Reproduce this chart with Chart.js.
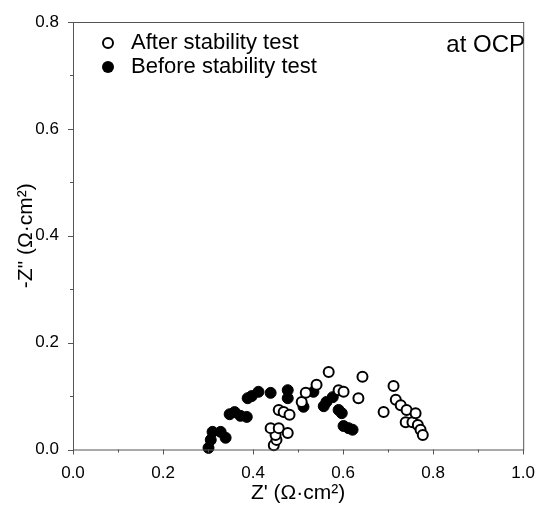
<!DOCTYPE html>
<html>
<head>
<meta charset="utf-8">
<script src="https://cdn.jsdelivr.net/npm/chart.js@4/dist/chart.umd.min.js"></script>
<style>
html,body{margin:0;padding:0;background:#fff;}
#wrap{width:541px;height:517px;}
</style>
</head>
<body>
<div id="wrap"><canvas id="c" width="541" height="517"></canvas></div>
<script>
// ---- data ----
const afterX = [0.446,0.452,0.450,0.439,0.457,0.477,0.457,0.468,0.481,0.508,0.517,0.541,0.568,0.590,0.601,0.634,0.643,0.690,0.712,0.717,0.728,0.741,0.739,0.754,0.761,0.766,0.772,0.777];
const afterY = [0.008,0.018,0.027,0.040,0.040,0.031,0.074,0.070,0.065,0.089,0.106,0.121,0.145,0.111,0.108,0.096,0.136,0.070,0.119,0.093,0.083,0.074,0.051,0.051,0.068,0.046,0.037,0.027];
const beforeX = [0.301,0.306,0.310,0.328,0.339,0.348,0.359,0.372,0.386,0.388,0.397,0.412,0.439,0.477,0.477,0.512,0.534,0.557,0.563,0.577,0.590,0.597,0.601,0.612,0.621];
const beforeY = [0.003,0.018,0.033,0.033,0.022,0.066,0.070,0.063,0.061,0.096,0.100,0.108,0.106,0.111,0.096,0.080,0.108,0.081,0.089,0.098,0.074,0.068,0.044,0.040,0.037];
const seriesNames = ['After stability test','Before stability test'];
const xTickLabels = ['0.0','0.2','0.4','0.6','0.8','1.0'];
const yTickLabels = ['0.0','0.2','0.4','0.6','0.8'];
const xTitle = "Z' (\u03A9\u00B7cm\u00B2)";
const yTitle = '-Z" (\u03A9\u00B7cm\u00B2)';
const annotation = 'at OCP';

const toPts = (xs, ys) => xs.map((x, i) => ({x: x, y: ys[i]}));
const FONT = "'Liberation Sans', Arial, sans-serif";

const framePlugin = {
  id: 'frame',
  afterDatasetsDraw(chart) {
    const {ctx, chartArea: a, scales} = chart;
    ctx.save();
    ctx.strokeStyle = '#555';
    ctx.lineWidth = 1;
    ctx.strokeRect(a.left + 0.5, a.top + 0.5, a.right - a.left, a.bottom - a.top);
    // ticks (major every 0.2, minor every 0.1), outward
    ctx.beginPath();
    for (let i = 0; i <= 10; i++) {
      const v = i / 10;
      const px = Math.round(scales.x.getPixelForValue(v)) + 0.5;
      const len = (i % 2 === 0) ? 5 : 3;
      ctx.moveTo(px, a.bottom);
      ctx.lineTo(px, a.bottom + len);
    }
    for (let i = 0; i <= 8; i++) {
      const v = i / 10;
      const py = Math.round(scales.y.getPixelForValue(v)) + 0.5;
      const len = (i % 2 === 0) ? 5 : 3;
      ctx.moveTo(a.left, py);
      ctx.lineTo(a.left - len, py);
    }
    ctx.stroke();
    // legend
    ctx.font = '22px ' + FONT;
    ctx.textBaseline = 'middle';
    ctx.fillStyle = '#000';
    const rows = [43, 67];
    seriesNames.forEach((name, i) => {
      const cy = rows[i];
      ctx.beginPath();
      ctx.lineWidth = 2;
      ctx.strokeStyle = '#000';
      if (i === 0) {
        ctx.arc(108, cy, 5, 0, Math.PI * 2);
        ctx.fillStyle = '#fff';
        ctx.fill();
        ctx.stroke();
      } else {
        ctx.arc(108, cy, 6, 0, Math.PI * 2);
        ctx.fillStyle = '#000';
        ctx.fill();
      }
      ctx.fillStyle = '#000';
      ctx.textAlign = 'left';
      ctx.fillText(name, 131, cy);
    });
    // annotation
    ctx.font = '24px ' + FONT;
    ctx.textAlign = 'right';
    ctx.textBaseline = 'alphabetic';
    ctx.fillText(annotation, 525, 52);
    ctx.restore();
  }
};

new Chart(document.getElementById('c'), {
  type: 'scatter',
  data: {
    datasets: [
      {
        label: seriesNames[0],
        data: toPts(afterX, afterY),
        pointStyle: 'circle',
        pointRadius: 5,
        pointBorderWidth: 2,
        pointBackgroundColor: '#fff',
        pointBorderColor: '#000',
        clip: false
      },
      {
        label: seriesNames[1],
        data: toPts(beforeX, beforeY),
        pointStyle: 'circle',
        pointRadius: 5.5,
        pointBorderWidth: 1,
        pointBackgroundColor: '#000',
        pointBorderColor: '#000',
        clip: false
      }
    ]
  },
  options: {
    responsive: false,
    animation: false,
    events: [],
    layout: {padding: {top: 22, right: 17.5, bottom: 0, left: 0}},
    plugins: {legend: {display: false}, tooltip: {enabled: false}},
    scales: {
      x: {
        type: 'linear', min: 0, max: 1,
        grid: {display: false},
        border: {display: false},
        ticks: {
          stepSize: 0.1, autoSkip: false, maxRotation: 0, padding: 6,
          color: '#000', font: {family: FONT, size: 17},
          callback: (v, i) => (i % 2 === 0 ? xTickLabels[i / 2] : '')
        },
        title: {display: true, text: xTitle, color: '#000', font: {family: FONT, size: 21}, padding: {top: 0, bottom: 11}},
        afterFit: s => { s.height = 67.5; }
      },
      y: {
        type: 'linear', min: 0, max: 0.8,
        grid: {display: false},
        border: {display: false},
        ticks: {
          stepSize: 0.1, autoSkip: false, padding: 6,
          color: '#000', font: {family: FONT, size: 17},
          callback: (v, i) => (i % 2 === 0 ? yTickLabels[i / 2] : '')
        },
        title: {display: true, text: yTitle, color: '#000', font: {family: FONT, size: 21}, padding: {top: 14, bottom: 14}},
        afterFit: s => { s.width = 73; }
      }
    }
  },
  plugins: [framePlugin]
});
</script>
</body>
</html>
